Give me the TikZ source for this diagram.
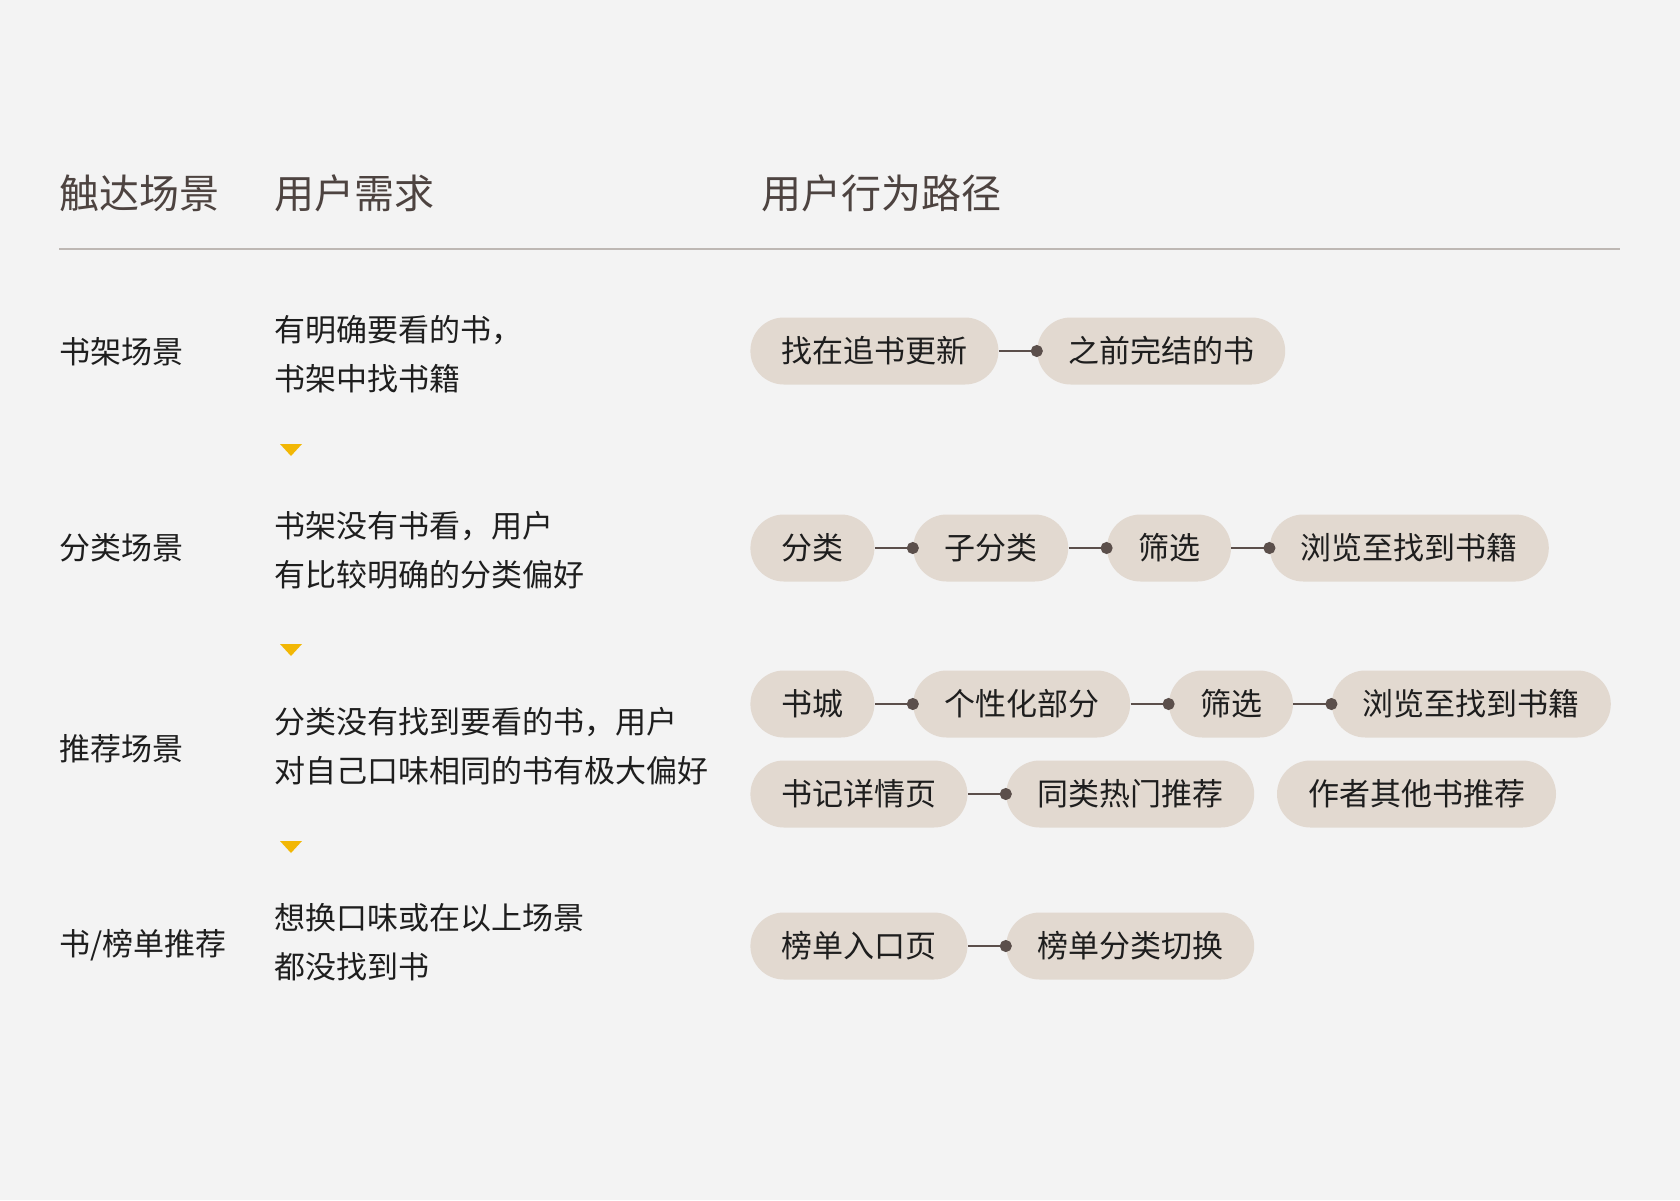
\documentclass[tikz,border=0pt]{standalone}
\usepackage{fontspec}
\setmainfont{Noto Sans CJK SC}
\usetikzlibrary{positioning,arrows.meta}

\definecolor{bgc}{HTML}{F3F3F3}
\definecolor{pillc}{HTML}{E2D9D0}
\definecolor{linkc}{HTML}{5B4F4B}
\definecolor{headc}{HTML}{4D4340}
\definecolor{rulec}{HTML}{BDB7B3}
\definecolor{markc}{HTML}{F2B705}
\definecolor{textc}{HTML}{1E1E1E}

\tikzset{
  pill/.style={fill=pillc, rounded corners=16.75pt, minimum height=33.5pt,
    inner xsep=15.5pt, inner ysep=0pt, text=textc,
    font=\fontsize{15.5pt}{18pt}\selectfont},
  link/.style={draw=linkc, line width=1pt,
    -{Circle[length=6pt, width=6pt, fill=linkc]}, shorten >=-3pt},
  head/.style={anchor=west, inner sep=0pt, text=headc,
    font=\fontsize{20pt}{24pt}\selectfont},
  scene/.style={anchor=west, inner sep=0pt, text=textc,
    font=\fontsize{15.5pt}{18pt}\selectfont},
  need/.style={anchor=west, align=left, inner sep=0pt, text=textc,
    font=\fontsize{15.5pt}{24.5pt}\selectfont},
}

\begin{document}
\begin{tikzpicture}[x=0.5pt, y=-0.5pt, node distance=19pt]
    \useasboundingbox[fill=bgc] (0,0) rectangle (1680,1200);

    % header
    \node[head] (h1) at (59,193) {触达场景};
    \node[head] (h2) at (274,193) {用户需求};
    \node[head] (h3) at (761,193) {用户行为路径};
    \draw[rulec, line width=1pt] (59,249) -- (1620,249);

    % scenes
    \node[scene] (s1) at (59,352) {书架场景};
    \node[scene] (s2) at (59,548) {分类场景};
    \node[scene] (s3) at (59,749) {推荐场景};
    \node[scene] (s4) at (59,945) {书/榜单推荐};

    % needs
    \node[need] (n1) at (274,354) {有明确要看的书，\\书架中找书籍};
    \node[need] (n2) at (274,550) {书架没有书看，用户\\有比较明确的分类偏好};
    \node[need] (n3) at (274,746) {分类没有找到要看的书，用户\\对自己口味相同的书有极大偏好};
    \node[need] (n4) at (274,942) {想换口味或在以上场景\\都没找到书};

    \foreach \ty in {444,644,841}
        \fill[markc] (280,\ty) -- (302,\ty) -- (291,\ty+12) -- cycle;

    % paths
    \node[pill, anchor=west] (a1) at (750,351) {找在追书更新};
    \node[pill, right=of a1] (a2) {之前完结的书};

    \node[pill, anchor=west] (b1) at (750,548) {分类};
    \node[pill, right=of b1] (b2) {子分类};
    \node[pill, right=of b2] (b3) {筛选};
    \node[pill, right=of b3] (b4) {浏览至找到书籍};

    \node[pill, anchor=west] (c1) at (750,704) {书城};
    \node[pill, right=of c1] (c2) {个性化部分};
    \node[pill, right=of c2] (c3) {筛选};
    \node[pill, right=of c3] (c4) {浏览至找到书籍};

    \node[pill, anchor=west] (d1) at (750,794) {书记详情页};
    \node[pill, right=of d1] (d2) {同类热门推荐};
    \node[pill, right=11pt of d2] (d3) {作者其他书推荐};

    \node[pill, anchor=west] (e1) at (750,946) {榜单入口页};
    \node[pill, right=of e1] (e2) {榜单分类切换};

    \path[link] (a1) edge (a2);
    \path[link] (b1) edge (b2);
    \path[link] (b2) edge (b3);
    \path[link] (b3) edge (b4);
    \path[link] (c1) edge (c2);
    \path[link] (c2) edge (c3);
    \path[link] (c3) edge (c4);
    \path[link] (d1) edge (d2);
    \path[link] (e1) edge (e2);
\end{tikzpicture}
\end{document}
